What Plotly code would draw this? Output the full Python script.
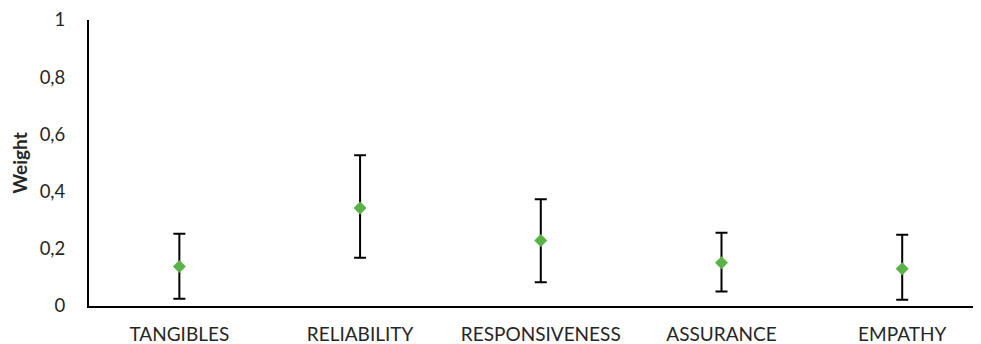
import plotly.graph_objects as go

categories = ["TANGIBLES", "RELIABILITY", "RESPONSIVENESS", "ASSURANCE", "EMPATHY"]
mean_weight = [0.138, 0.343, 0.229, 0.151, 0.130]
upper_weight = [0.253, 0.527, 0.373, 0.256, 0.249]
lower_weight = [0.025, 0.169, 0.083, 0.051, 0.022]
y_ticks = [0, 0.2, 0.4, 0.6, 0.8, 1]
y_tick_labels = ["0", "0,2", "0,4", "0,6", "0,8", "1"]

x_pos = list(range(len(categories)))
err_plus = [u - m for u, m in zip(upper_weight, mean_weight)]
err_minus = [m - l for m, l in zip(mean_weight, lower_weight)]

fig = go.Figure()
fig.add_trace(go.Scatter(
    x=x_pos, y=mean_weight, mode="markers",
    marker=dict(symbol="diamond", size=10, color="#5bb347"),
    error_y=dict(type="data", symmetric=False, array=err_plus, arrayminus=err_minus,
                 color="black", thickness=2, width=6),
    showlegend=False,
))

fig.update_layout(
    width=973, height=336,
    margin=dict(l=81, r=0, t=12, b=38),
    paper_bgcolor="white", plot_bgcolor="white",
    font=dict(family="Lato, Noto Sans, sans-serif", size=19, color="#262626"),
)
fig.update_xaxes(
    range=[-0.5, 4.436], tickvals=x_pos, ticktext=categories,
    showline=True, linecolor="black", linewidth=2, showgrid=False, zeroline=False,
    ticks="", ticklabelstandoff=10, tickfont=dict(size=19, color="#262626"),
)
fig.update_yaxes(
    range=[0, 1], tickvals=y_ticks, ticktext=y_tick_labels,
    showline=True, linecolor="black", linewidth=2, showgrid=False, zeroline=False,
    ticks="", ticklabelstandoff=18, tickfont=dict(size=18.5, color="#262626"),
    title=dict(text="<b>Weight</b>", font=dict(size=19, color="#262626"), standoff=10),
)

fig.write_html("out.html")
